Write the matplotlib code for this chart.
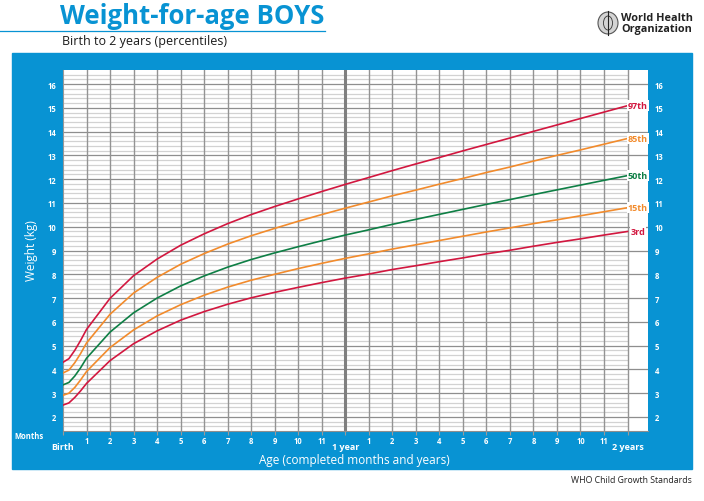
import numpy as np
import matplotlib
matplotlib.use('Agg')
import matplotlib.pyplot as plt
from matplotlib.patches import Rectangle, Ellipse
from matplotlib.lines import Line2D
import matplotlib.transforms as mtransforms

# ages in months (first month in quarter steps)
age = [0, 0.25, 0.5, 0.75, 1, 2, 3, 4, 5, 6, 7, 8, 9, 10, 11, 12,
       13, 14, 15, 16, 17, 18, 19, 20, 21, 22, 23, 24]

p3 = [2.50, 2.59, 2.82, 3.10, 3.41, 4.37, 5.08, 5.62, 6.07, 6.43, 6.74, 7.01, 7.24, 7.45,
      7.65, 7.84, 8.01, 8.20, 8.36, 8.53, 8.69, 8.86, 9.01, 9.18, 9.34, 9.49, 9.65, 9.80]
p15 = [2.91, 3.00, 3.24, 3.56, 3.91, 4.92, 5.66, 6.25, 6.72, 7.12, 7.46, 7.75, 8.00, 8.24,
       8.46, 8.67, 8.86, 9.06, 9.24, 9.42, 9.60, 9.78, 9.95, 10.13, 10.29, 10.46, 10.63, 10.80]
p50 = [3.35, 3.45, 3.72, 4.07, 4.47, 5.57, 6.38, 7.00, 7.51, 7.93, 8.30, 8.62, 8.90, 9.16,
       9.41, 9.65, 9.87, 10.10, 10.31, 10.52, 10.73, 10.94, 11.14, 11.35, 11.55, 11.75, 11.95, 12.15]
p85 = [3.85, 3.97, 4.28, 4.67, 5.11, 6.32, 7.21, 7.87, 8.42, 8.87, 9.27, 9.62, 9.93, 10.23,
       10.51, 10.78, 11.04, 11.30, 11.54, 11.79, 12.03, 12.28, 12.51, 12.76, 13.00, 13.23, 13.47, 13.71]
p97 = [4.30, 4.45, 4.80, 5.22, 5.68, 6.99, 7.94, 8.64, 9.22, 9.70, 10.13, 10.51, 10.85, 11.17,
       11.48, 11.78, 12.07, 12.36, 12.64, 12.91, 13.19, 13.46, 13.73, 14.01, 14.28, 14.55, 14.82, 15.09]

curve_names = ['3rd', '15th', '50th', '85th', '97th']
month_labels = ['', '1', '2', '3', '4', '5', '6', '7', '8', '9', '10', '11',
                '', '1', '2', '3', '4', '5', '6', '7', '8', '9', '10', '11', '']
kg_ticks = list(range(2, 17))

BLUE = '#0893d3'
RED = '#d2173f'
ORANGE = '#f28b2c'
GREEN = '#0e7f45'
colors = [RED, ORANGE, GREEN, ORANGE, RED]

W, H = 704, 502
def fx(x):
      return x / W
def fy(y):
      return 1 - y / H

plt.rcParams['font.family'] = ['Open Sans', 'DejaVu Sans']

fig = plt.figure(figsize=(W / 100, H / 100), dpi=100)

# blue panel behind the chart
fig.patches.append(Rectangle((fx(12), fy(470)), fx(692) - fx(12), fy(54) - fy(470),
                             transform=fig.transFigure, color=BLUE, zorder=-5))

ax = fig.add_axes([fx(63), fy(432), fx(648) - fx(63), fy(71) - fy(432)])
ax.set_zorder(2)
ax.set_facecolor('white')
ax.set_xlim(0, 24.87)
ax.set_ylim(1.41, 16.59)

# grid
minor = [v / 10 for v in range(16, 166, 2) if v % 10 != 0]
ax.hlines(minor, 0, 24, color='#d2d2d2', lw=0.9, zorder=1)
ax.hlines(kg_ticks, 0, 24.87, color='#8e8e8e', lw=0.9, zorder=2)
for m in range(1, 25):
      ax.axvline(m, color='#7f7f7f' if m == 12 else '#939393',
                 lw=2.2 if m == 12 else 1.0, zorder=2)

for spine in ax.spines.values():
      spine.set_visible(False)
ax.spines['bottom'].set_visible(True)
ax.spines['bottom'].set_color('#8e8e8e')
ax.spines['left'].set_visible(True)
ax.spines['left'].set_color('#999999')

# curves
series = [p3, p15, p50, p85, p97]
for vals, c, name in zip(series, colors, curve_names):
      ax.plot(age, vals, color=c, lw=1.2, zorder=4, solid_joinstyle='round')
      ax.text(24.44, vals[-1], name, color=c, fontsize=6.5, fontweight='bold',
              ha='center', va='center', zorder=5,
              bbox=dict(facecolor='white', edgecolor='none', pad=0.6))

# ticks
ax.set_xticks(range(0, 25))
ax.set_xticklabels(month_labels)
ax.tick_params(axis='x', length=3, width=0.8, color='#9a9a9a', pad=0.5,
               labelcolor='white', labelsize=5.5)
for t in ax.get_xticklabels():
      t.set_fontweight('bold')
ax.set_yticks(kg_ticks)
ax.set_yticklabels([str(k) for k in kg_ticks])
ax.tick_params(axis='y', length=0, pad=5, labelcolor='white', labelsize=5.5,
               labelright=True)
for t in ax.get_yticklabels():
      t.set_fontweight('bold')

trans = mtransforms.blended_transform_factory(ax.transData, ax.transAxes)
for xpos, lab in [(0, 'Birth'), (12, '1 year'), (24, '2 years')]:
      ax.text(xpos, -0.044, lab, transform=trans, color='white', fontsize=6.5,
              fontweight='bold', ha='center', va='center', clip_on=False)
ax.text(-1.45, -0.013, 'Months', transform=trans, color='white', fontsize=5.5,
        fontweight='bold', ha='center', va='center', clip_on=False)
ax.text(12.4, -0.08, 'Age (completed months and years)', transform=trans,
        color='white', fontsize=8.5, ha='center', va='center', clip_on=False)
fig.text(fx(32), fy(251), 'Weight (kg)', color='white', fontsize=8.5,
         rotation=90, ha='center', va='center')

# header
fig.text(fx(60), fy(16), 'Weight-for-age BOYS', color=BLUE, fontsize=18.5,
         fontweight='bold', ha='left', va='center')
fig.lines.append(Line2D([0, fx(325)], [fy(32), fy(32)], transform=fig.transFigure,
                        color=BLUE, lw=0.9))
fig.text(fx(62), fy(42), 'Birth to 2 years (percentiles)', color='#1a1a1a',
         fontsize=9, ha='left', va='center')

# logo
fig.patches.append(Ellipse((fx(608), fy(24)), 20 / W, 22 / H, transform=fig.transFigure,
                           facecolor='#d4d4d4', edgecolor='#555555', lw=0.8))
fig.patches.append(Ellipse((fx(608), fy(24)), 9 / W, 14 / H, transform=fig.transFigure,
                           facecolor='none', edgecolor='#333333', lw=0.6))
fig.lines.append(Line2D([fx(608), fx(608)], [fy(12), fy(36)], transform=fig.transFigure,
                        color='#222222', lw=0.8))
fig.text(fx(621), fy(24), 'World Health\nOrganization', color='#222222', fontsize=7.8,
         fontweight='bold', ha='left', va='center', linespacing=0.95)

fig.text(fx(692), fy(481), 'WHO Child Growth Standards', color='#222222', fontsize=6.3,
         ha='right', va='center')

fig.savefig('out.png', dpi=100)
